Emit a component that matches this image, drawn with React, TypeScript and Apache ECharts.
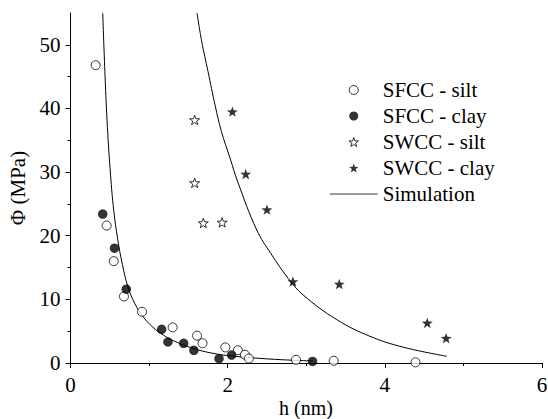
import React, { useEffect, useRef } from "react";
import * as echarts from "echarts";

const sfccSilt: [number, number][] = [
  [0.32, 46.8], [0.46, 21.6], [0.55, 16.0], [0.68, 10.45], [0.91, 8.05],
  [1.3, 5.6], [1.61, 4.3], [1.68, 3.1], [1.97, 2.45], [2.13, 2.0],
  [2.22, 1.3], [2.27, 0.7], [2.87, 0.5], [3.35, 0.35], [4.39, 0.1],
];
const sfccClay: [number, number][] = [
  [0.41, 23.4], [0.56, 18.05], [0.71, 11.6], [1.16, 5.3], [1.24, 3.3],
  [1.44, 3.1], [1.57, 2.0], [1.89, 0.68], [2.05, 1.25], [3.08, 0.25],
];
const swccSilt: [number, number][] = [
  [1.58, 38.2], [1.58, 28.3], [1.69, 22.0], [1.93, 22.1],
];
const swccClay: [number, number][] = [
  [2.06, 39.5], [2.23, 29.7], [2.5, 24.1], [2.83, 12.8], [3.42, 12.4],
  [4.54, 6.3], [4.78, 3.9],
];
const simSfcc: [number, number][] = [
  [0.41, 55], [0.44, 45], [0.47, 37], [0.51, 29.5], [0.55, 24], [0.6, 19.5],
  [0.66, 15.5], [0.73, 12], [0.82, 9.3], [0.93, 7.2], [1.05, 5.6],
  [1.18, 4.4], [1.31, 3.5], [1.56, 2.3], [1.8, 1.55], [2.05, 1.1],
  [2.5, 0.65], [2.86, 0.42], [3.08, 0.32],
];
const simSwcc: [number, number][] = [
  [1.61, 55], [1.67, 50.5], [1.75, 45.8], [1.84, 40.5], [1.92, 36.4],
  [2.03, 32.2], [2.13, 28.4], [2.37, 20.9], [2.55, 17.2], [2.77, 13.3],
  [2.96, 10.7], [3.39, 6.8], [3.81, 4.2], [4.23, 2.5], [4.79, 1.05],
];
const yMajorTicks = [0, 10, 20, 30, 40, 50];
const yMinorTicks = [5, 15, 25, 35, 45];
const xTitle = "h (nm)";
const yTitle = "Φ (MPa)";

const STAR =
  "path://M0,-10L2.35,-3.24L9.51,-3.09L3.8,1.24L5.88,8.09L0,4.1L-5.88,8.09L-3.8,1.24L-9.51,-3.09L-2.35,-3.24Z";
const FONT = "'Liberation Serif', 'Times New Roman', serif";

export default function App() {
  const ref = useRef<HTMLDivElement>(null);
  useEffect(() => {
    if (!ref.current) return;
    const chart = echarts.init(ref.current, undefined, { renderer: "svg" });
    const openStyle = { color: "#fff", borderColor: "#000", borderWidth: 1 };
    const fillStyle = { color: "#000", borderColor: "#000", borderWidth: 0 };
    const labelStyle = { fontFamily: FONT, fontSize: 21, color: "#000" };
    chart.setOption({
      animation: false,
      backgroundColor: "#fff",
      textStyle: labelStyle,
      grid: {
        left: 70.5, right: 6, top: 13, bottom: 56,
        containLabel: false, outerBoundsMode: "none",
      },
      graphic: [
        {
          type: "text",
          x: 306,
          y: 408,
          style: {
            text: xTitle,
            fontFamily: FONT,
            fontSize: 20,
            fill: "#000",
            align: "center",
            verticalAlign: "middle",
            textAlign: "center",
            textVerticalAlign: "middle",
          },
        },
      ],
      legend: {
        orient: "vertical",
        left: 324,
        top: 74,
        itemWidth: 48,
        itemHeight: 9,
        itemGap: 4,
        textStyle: { ...labelStyle, lineHeight: 22 },
        data: [
          { name: "SFCC - silt", itemStyle: openStyle },
          { name: "SFCC - clay", itemStyle: fillStyle },
          { name: "SWCC - silt", itemStyle: openStyle },
          { name: "SWCC - clay", itemStyle: fillStyle },
          {
            name: "Simulation",
            itemStyle: { color: "transparent", borderWidth: 0, opacity: 0 },
            lineStyle: { color: "#7a7a7a", width: 1.5 },
          },
        ],
      },
      xAxis: {
        type: "value",
        min: 0,
        max: 6,
        interval: 2,
        axisLine: { lineStyle: { color: "#000", width: 1 } },
        axisTick: { show: true, inside: false, length: 5, lineStyle: { color: "#000" } },
        minorTick: { show: true, splitNumber: 2, length: 3, lineStyle: { color: "#000" } },
        axisLabel: { ...labelStyle, margin: 11 },
        splitLine: { show: false },
      },
      yAxis: [
        {
          type: "value",
          min: 0,
          max: 55,
          interval: 10,
          name: yTitle,
          nameLocation: "middle",
          nameGap: 42,
          nameMoveOverlap: false,
          nameTextStyle: labelStyle,
          axisLine: { show: true, lineStyle: { color: "#000", width: 1 } },
          axisTick: { show: true, inside: false, length: 5, customValues: yMajorTicks, lineStyle: { color: "#000" } },
          axisLabel: { ...labelStyle, margin: 10, customValues: yMajorTicks },
          splitLine: { show: false },
        },
        {
          type: "value",
          min: 0,
          max: 55,
          interval: 5,
          position: "left",
          axisLine: { show: false },
          axisTick: { show: true, inside: false, length: 3, customValues: yMinorTicks, lineStyle: { color: "#000" } },
          axisLabel: { show: false },
          splitLine: { show: false },
        },
      ],
      series: [
        {
          name: "SFCC - silt", type: "scatter", data: sfccSilt, symbol: "circle", symbolSize: 9,
          itemStyle: openStyle, z: 3,
        },
        {
          name: "SFCC - clay", type: "scatter", data: sfccClay, symbol: "circle", symbolSize: 9.5,
          itemStyle: fillStyle, z: 3,
        },
        {
          name: "SWCC - silt", type: "scatter", data: swccSilt, symbol: STAR, symbolSize: 10,
          symbolKeepAspect: true, itemStyle: openStyle, z: 3,
        },
        {
          name: "SWCC - clay", type: "scatter", data: swccClay, symbol: STAR, symbolSize: 11,
          symbolKeepAspect: true, itemStyle: fillStyle, z: 3,
        },
        {
          name: "Simulation", type: "line", data: simSfcc, showSymbol: false, symbol: "none",
          smooth: 0.4, itemStyle: { color: "#000" }, lineStyle: { color: "#000", width: 1 }, z: 2,
        },
        {
          name: "Simulation", type: "line", data: simSwcc, showSymbol: false, symbol: "none",
          smooth: 0.4, itemStyle: { color: "#000" }, lineStyle: { color: "#000", width: 1 }, z: 2,
        },
      ],
    });
    return () => chart.dispose();
  }, []);
  return (
    <div
      ref={ref}
      style={{ position: "fixed", left: 0, top: 0, width: 548, height: 419, background: "#fff" }}
    />
  );
}
